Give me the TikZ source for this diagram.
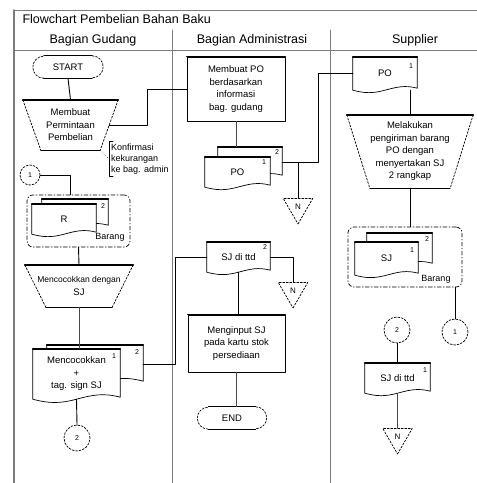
\documentclass[tikz,border=0pt]{standalone}
\usepackage{fontspec}
\setmainfont{Liberation Sans}
\usetikzlibrary{calc,shapes.geometric}
\definecolor{lanegray}{RGB}{125,125,125}
\definecolor{linegray}{RGB}{70,70,70}
\tikzset{
    txt/.style={font=\fontsize{9.5}{12.5}\selectfont, align=center},
    hdr/.style={font=\fontsize{12.5}{15}\selectfont},
    ttl/.style={font=\fontsize{12.5}{15}\selectfont}
}

% document page with wavy bottom: name, centre, width, height, text
\newcommand{\docnode}[5]{%
  \node[box, minimum width=#3, minimum height=#4] (#1) at (#2) {};
  \draw[edge, fill=white] (#1.south west) -- (#1.north west) -- (#1.north east)
    -- ([yshift=2pt]#1.south east) to[out=165,in=15] (#1.south)
    to[out=195,in=-15] (#1.south west) -- cycle;
  \draw[edgetop] (#1.north west) -- (#1.north east);
  \node[txt, inner sep=0pt] (#1-t) at (#1.center) {#5};
}
% manual operation: name, centre, width, height, inset, text
\newcommand{\manop}[6]{%
  \node[box, minimum width=#3, minimum height=#4] (#1) at (#2) {#6};
  \draw[edgetop] (#1.north west) -- (#1.north east);
  \draw[edgedash] (#1.north east) -- ([xshift=-#5pt]#1.south east)
                  (#1.north west) -- ([xshift=#5pt]#1.south west);
  \draw[edge] ([xshift=#5pt]#1.south west) -- ([xshift=-#5pt]#1.south east);
}
% terminator: name, centre, width, text
\newcommand{\termnode}[4]{%
  \node[box, minimum width=#3, minimum height=22] (#1) at (#2) {#4};
  \draw[edge] ([xshift=11pt]#1.north west) -- ([xshift=-11pt]#1.north east)
              ([xshift=11pt]#1.south west) -- ([xshift=-11pt]#1.south east);
  \draw[edgedash] ([xshift=-11pt]#1.north east) arc[start angle=90,end angle=-90,radius=11pt]
                  ([xshift=11pt]#1.south west) arc[start angle=270,end angle=90,radius=11pt];
}

\begin{document}
\begin{tikzpicture}[x=1pt,y=-1pt, line cap=round, line join=round]

% shape + line styles
\tikzset{
  lane/.style={draw=lanegray, line width=1pt},
  border/.style={draw=lanegray, line width=2pt},
  edge/.style={draw=black, line width=0.7pt},
  edgetop/.style={draw=black, line width=1.5pt},
  edgedash/.style={draw=black, line width=0.7pt, dash pattern=on 2pt off 1.5pt},
  link/.style={draw=black, line width=0.9pt},
  thinlink/.style={draw=linegray, line width=0.5pt},
  box/.style={rectangle, inner sep=1pt, txt},
  proc/.style={rectangle, draw, line width=0.7pt, txt},
  conn/.style={circle, draw, line width=0.7pt, dash pattern=on 2pt off 1.5pt, inner sep=0pt, font=\fontsize{7}{8}\selectfont},
  store/.style={regular polygon, regular polygon sides=3, shape border rotate=180, draw, line width=0.7pt,
                dash pattern=on 2pt off 1.5pt, minimum size=34, inner sep=0pt, font=\fontsize{8}{9}\selectfont},
  grp/.style={rectangle, draw, rounded corners=6pt, line width=0.7pt, dash pattern=on 4pt off 2pt on 1pt off 2pt},
  num/.style={font=\fontsize{7}{8}\selectfont, inner sep=0pt},
  note/.style={font=\fontsize{9}{11}\selectfont, align=left, inner sep=2pt},
  small/.style={font=\fontsize{9}{10}\selectfont, inner sep=0pt},
}

\useasboundingbox (0,0) rectangle (477,483);

  % frame and lanes
  \draw[border] (14,10) -- (14,483);
  \draw[lane] (14,10) -- (477,10);
  \draw[lane] (14,50) -- (477,50);
  \draw[lane] (172,30) -- (172,483);
  \draw[lane] (330,30) -- (330,483);

  \node[ttl, anchor=west] (title) at (19,19) {Flowchart Pembelian Bahan Baku};
  \node[hdr] (hgud) at (93,40) {Bagian Gudang};
  \node[hdr] (hadm) at (252,40) {Bagian Administrasi};
  \node[hdr] (hsup) at (415,40) {Supplier};

  % Bagian Gudang
  \termnode{start}{68,67}{70}{START}
  \manop{mp}{70.5,125}{95}{50}{18}{Membuat\\Permintaan\\Pembelian}
  \node[note, anchor=west] (kf) at (109,159) {Konfirmasi\\kekurangan\\ke bag. admin};
  \node[conn, minimum size=20] (c1) at (30,175) {1};
  \node[grp, minimum width=103, minimum height=52] (g1) at (78.5,221) {};
  \docnode{rb}{75,213}{66}{28}{}
  \docnode{r}{64,219}{64}{30}{R}
  \node[num] (rb-n) at (103,206) {2};
  \node[small] (brg1) at (110,237) {Barang};
  \manop{mc}{79,286}{108}{42}{21}{\fontsize{8.5}{12}\selectfont Mencocokkan dengan\\SJ}
  \docnode{kb}{95,364}{96}{38}{}
  \docnode{kk}{76.5,374}{87}{50}{Mencocokkan\\+\\tag. sign SJ}
  \node[num] (kb-n) at (137,352) {2};
  \node[num] (kk-n) at (114,356) {1};
  \node[conn, minimum size=26] (c2g) at (77,438) {2};

  % Bagian Administrasi
  \node[proc, minimum width=98, minimum height=64] (po) at (236,89) {Membuat PO\\berdasarkan\\informasi\\bag. gudang};
  \draw[edgetop] (po.north west) -- (po.north east);
  \docnode{pob}{250,162}{64}{30}{}
  \docnode{pof}{237.5,172}{65}{30}{PO}
  \node[num] (pob-n) at (277,152) {2};
  \node[num] (pof-n) at (264,162) {1};
  \node[store] (n1) at (298,207) {N};
  \docnode{sj2}{238.5,257}{63}{30}{SJ di ttd}
  \node[num] (sj2-n) at (265,247) {2};
  \node[store] (n2) at (293,291) {N};
  \node[proc, minimum width=97, minimum height=57] (inp) at (236.5,343.5) {Menginput SJ\\pada kartu stok\\persediaan};
  \draw[edgetop] (inp.north west) -- (inp.north east);
  \termnode{finish}{232,418}{69}{END}

  % Supplier
  \docnode{pos}{385,73.5}{64}{33}{PO}
  \node[num] (pos-n) at (411,66) {1};
  \manop{kirim}{410,151.5}{126}{73}{23}{Melakukan\\pengiriman barang\\PO dengan\\menyertakan SJ\\2 rangkap}
  \node[grp, minimum width=114, minimum height=60] (g2) at (405,257) {};
  \docnode{sjb}{399.5,249}{65}{32}{}
  \docnode{sj}{386.5,258.5}{63}{33}{SJ}
  \node[num] (sj-n) at (412,250) {1};
  \node[num] (sjb-n) at (427,239) {2};
  \node[small] (brg2) at (436,279) {Barang};
  \node[conn, minimum size=26] (c1s) at (455,332) {1};
  \node[conn, minimum size=26] (c2s) at (397,330) {2};
  \docnode{sjo}{397.5,378}{65}{30}{SJ di ttd}
  \node[num] (sjo-n) at (425,370) {1};
  \node[store] (n3) at (397.5,437) {N};

  % connectors
  \draw[link] (start.south) -- (mp.north);
  \draw[link] ([xshift=-9pt]mp.east) -- ++(38,0) |- (po.west);
  \draw[thinlink, dotted] ([xshift=-18pt]mp.south east) -- (kf.west);
  \draw[edge] ([xshift=4pt]kf.north west) -- (kf.north west) -- (kf.south west) -- ([xshift=4pt]kf.south west);
  \draw[link] (c1.east) -| ([xshift=-8pt]g1.north);
  \draw[link] (g1.south) -- (mc.north);
  \draw[thinlink] (mc.south) -- (mc.south |- kk.north);
  \draw[link] (kk.south) -- (c2g.north);
  \draw[link] (kb.east) -- ++(32,0) |- (sj2.west);

  \draw[thinlink] (po.south) -- (po.south |- pob.north);
  \draw[link] (pob.east) -| (n1.north);
  \draw[link] (pob.east) -- ++(36,0) |- (pos.west);
  \draw[link] (sj2.east) -| (n2.north);
  \draw[link] (sj2.south) -- (sj2.south |- inp.north);
  \draw[thinlink] (inp.south) -- (inp.south |- finish.north);

  \draw[link] (kirim.north |- pos.south) -- (kirim.north);
  \draw[link] (kirim.south) -- (kirim.south |- g2.north);
  \draw[link] (c1s.north |- g2.south) -- (c1s.north);
  \draw[link] (c2s.south) -- (c2s.south |- sjo.north);
  \draw[thinlink] (sjo.south) -- (sjo.south |- n3.north);

\end{tikzpicture}
\end{document}
